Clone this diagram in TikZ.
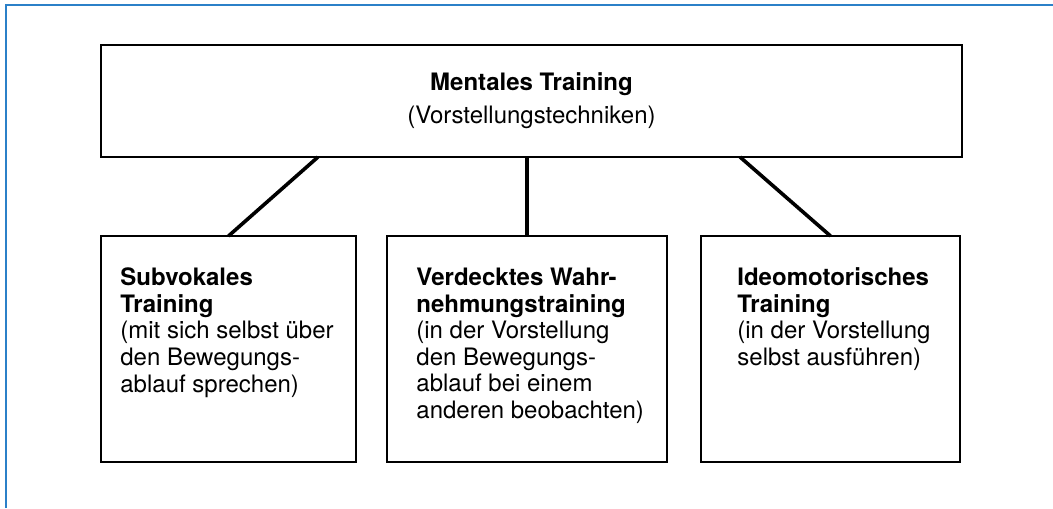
\documentclass[tikz,border=0pt]{standalone}
\usepackage{fontspec}
\setmainfont{TeX Gyre Heros}
\usetikzlibrary{positioning}
\definecolor{frameblue}{RGB}{43,128,200}

\tikzset{
	mainbox/.style = {draw, line width=1.2pt, inner sep=0pt, outer sep=0pt, minimum width=430.5pt, minimum height=56pt, align=center, font=\fontsize{12}{16.5}\selectfont},
	subbox/.style = {draw, line width=1.2pt, inner sep=0pt, outer sep=0pt, minimum height=113pt},
	subtext/.style = {anchor=base west, align=left, inner sep=0pt, font=\fontsize{12}{13.3}\selectfont},
	link/.style = {line width=1.8pt}
}

\begin{document}
\begin{tikzpicture}[x = 0.5pt, y = -0.5pt]
	\useasboundingbox (0,0) rectangle (1053,508);
	\draw[frameblue, line width = 1pt] (5.5,508) -- (5.5,5.5) -- (1053,5.5);
	\node[mainbox] (ment) at (531.5,101) {\textbf{Mentales Training}\\(Vorstellungstechniken)};
	\node[subbox, minimum width = 127.5pt] (subv) at (228.5,349) {};
	\node[subbox, minimum width = 140pt] (verd) at (527,349) {};
	\node[subbox, minimum width = 129.5pt] (ideo) at (830.5,349) {};
	% anchor is the baseline of the last line
	\node[subtext] (subvtxt) at (120,392) {\textbf{Subvokales}\\\textbf{Training}\\(mit sich selbst über\\den Bewegungs-\\ablauf sprechen)};
	\node[subtext] (verdtxt) at (416,418.5) {\textbf{Verdecktes Wahr-}\\\textbf{nehmungstraining}\\(in der Vorstellung\\den Bewegungs-\\ablauf bei einem\\anderen beobachten)};
	\node[subtext] (ideotxt) at (737,365.5) {\textbf{Ideomotorisches}\\\textbf{Training}\\(in der Vorstellung\\selbst ausführen)};
	\draw[link] ([xshift = -106.75pt]ment.south) -- (subv.north);
	\draw[link] (ment.south -| verd.north) -- (verd.north);
	\draw[link] ([xshift = 104.25pt]ment.south) -- (ideo.north);
\end{tikzpicture}
\end{document}
